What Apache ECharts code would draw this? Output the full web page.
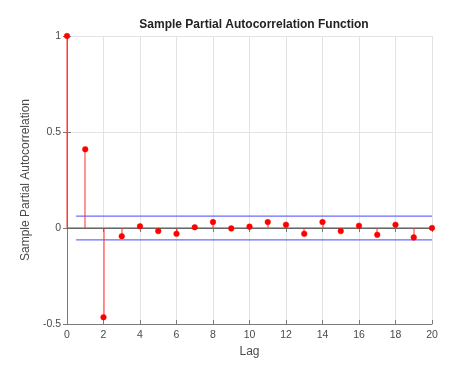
<!DOCTYPE html>
<html><head><meta charset="utf-8">
<script src="https://cdn.jsdelivr.net/npm/echarts@6/dist/echarts.min.js"></script>
<style>html,body{margin:0;padding:0;background:#fff}#c{width:474px;height:366px}</style>
</head><body><div id="c"></div>
<script>
const lags = [0,1,2,3,4,5,6,7,8,9,10,11,12,13,14,15,16,17,18,19,20];
const pacf = [1,0.41,-0.465,-0.043,0.009,-0.016,-0.03,0.004,0.031,-0.002,0.007,0.031,0.017,-0.03,0.031,-0.016,0.012,-0.035,0.017,-0.049,0];
const bound = 0.062;
const boundRange = [0.5, 20];
const xTicks = [0,2,4,6,8,10,12,14,16,18,20];
const yTicks = [-0.5,0,0.5,1];

const chart = echarts.init(document.getElementById('c'));
const axisCol = '#7a7a7a';
const labelCol = '#4a4a4a';
const font = 'Liberation Sans, Arial, sans-serif';
chart.setOption({
  animation:false,
  title:{text:'Sample Partial Autocorrelation Function',left:249,top:14,textAlign:'center',
    textStyle:{fontSize:12,fontWeight:'bold',color:'#222',fontFamily:font}},
  grid:{left:67,right:42,top:36,bottom:42},
  xAxis:[{type:'value',min:0,max:20,interval:2,name:'Lag',nameLocation:'middle',nameGap:20,
    nameTextStyle:{fontSize:12,color:labelCol,fontFamily:font},
    axisLine:{show:true,onZero:false,lineStyle:{color:axisCol}},
    axisTick:{show:true,inside:true,length:4,lineStyle:{color:axisCol}},
    axisLabel:{color:labelCol,fontSize:10.5,fontFamily:font,margin:6,
      formatter:v=>xTicks.includes(v)?String(v):''},
    splitLine:{show:true,lineStyle:{color:'#e3e3e3'}}},
   {type:'value',position:'top',min:0,max:20,interval:2,
    axisLine:{show:true,lineStyle:{color:axisCol}},
    axisTick:{show:true,inside:true,length:4,lineStyle:{color:axisCol}},
    axisLabel:{show:false},splitLine:{show:false}}],
  yAxis:[{type:'value',min:-0.5,max:1,interval:0.5,name:'Sample Partial Autocorrelation',
    nameLocation:'middle',nameGap:31,
    nameTextStyle:{fontSize:12,color:labelCol,fontFamily:font},
    axisLine:{show:true,onZero:false,lineStyle:{color:axisCol}},
    axisTick:{show:true,inside:true,length:4,lineStyle:{color:axisCol}},
    axisLabel:{color:labelCol,fontSize:10.5,fontFamily:font,margin:6,
      formatter:v=>yTicks.includes(v)?String(v):''},
    splitLine:{show:true,lineStyle:{color:'#e3e3e3'}}},
   {type:'value',position:'right',min:-0.5,max:1,interval:0.5,
    axisLine:{show:true,lineStyle:{color:axisCol}},
    axisTick:{show:true,inside:true,length:4,lineStyle:{color:axisCol}},
    axisLabel:{show:false},splitLine:{show:false}}],
  series:[
    {type:'line',data:[[0,0],[20,0]],symbol:'none',lineStyle:{color:'#555',width:1},z:2},
    {type:'line',data:[[boundRange[0],bound],[boundRange[1],bound]],symbol:'none',lineStyle:{color:'#6a6aff',width:1.2},z:3},
    {type:'line',data:[[boundRange[0],-bound],[boundRange[1],-bound]],symbol:'none',lineStyle:{color:'#6a6aff',width:1.2},z:3},
    {type:'custom',z:5,data:lags.map((l,i)=>[l,pacf[i]]),
     itemStyle:{color:'#ff0000',borderColor:'#ff0000'},
     clip:false,
     renderItem:(params,api)=>{
       const p=api.coord([api.value(0),api.value(1)]);
       const b=api.coord([api.value(0),0]);
       const x=Math.round(p[0]);
       return {type:'group',children:[
         {type:'rect',z2:1,shape:{x:x-0.5,y:Math.min(b[1],p[1]),width:1,height:Math.abs(b[1]-p[1])},style:{fill:'#ff3030',stroke:null}},
         {type:'circle',z2:2,shape:{cx:p[0],cy:p[1],r:2.8},style:{fill:'#ff0000',stroke:'#ff0000',lineWidth:0.5}}
       ]};
     }}
  ]
});
</script></body></html>
